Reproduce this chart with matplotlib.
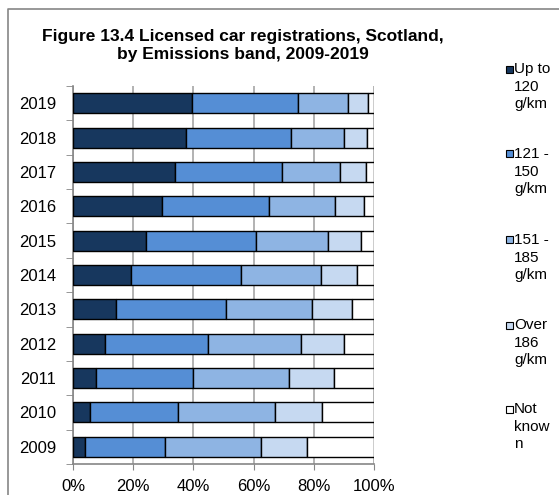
import matplotlib
matplotlib.use("Agg")
from matplotlib import pyplot as plt
from matplotlib.patches import Rectangle
from matplotlib.lines import Line2D
import numpy as np

plt.rcParams['font.family'] = ['Liberation Sans', 'DejaVu Sans']

years = ["2009", "2010", "2011", "2012", "2013", "2014", "2015", "2016", "2017", "2018", "2019"]
bands = ["Up to\n120\ng/km", "121 -\n150\ng/km", "151 -\n185\ng/km", "Over\n186\ng/km", "Not\nknow\nn"]
# shares (%) per band, 2009 -> 2019
up_to_120 = [3.9, 5.8, 7.8, 10.5, 14.4, 19.2, 24.4, 29.5, 34.0, 37.4, 39.7]
b121_150 = [26.5, 29.2, 32.0, 34.4, 36.3, 36.6, 36.4, 35.7, 35.3, 35.1, 35.1]
b151_185 = [31.9, 32.2, 31.8, 30.8, 28.6, 26.5, 24.0, 21.7, 19.4, 17.6, 16.4]
over_186 = [15.5, 15.6, 15.2, 14.3, 13.3, 12.2, 10.9, 9.7, 8.6, 7.7, 6.9]
not_known = [22.2, 17.2, 13.2, 10.0, 7.4, 5.5, 4.3, 3.4, 2.7, 2.2, 1.9]
colors = ["#17375E", "#558ED5", "#8EB4E3", "#C6D9F1", "#FFFFFF"]

W, H = 559, 495
fig = plt.figure(figsize=(W / 100, H / 100), dpi=100)
# (left, bottom, width, height) in figure fractions
ax = fig.add_axes((73 / W, (H - 464) / H, 301 / W, 378 / H))

series = [up_to_120, b121_150, b151_185, over_186, not_known]
y = np.arange(len(years))
left = np.zeros(len(years))
for vals, col in zip(series, colors):
    ax.barh(y, vals, left=left, height=0.58, color=col, edgecolor="black",
            linewidth=1.0, zorder=3)
    left += np.array(vals)

ax.set_xlim(0, 100)
ax.set_ylim(-0.5, len(years) - 0.5)
ax.set_xticks(np.arange(0, 101, 20))
ax.set_xticklabels(["%d%%" % v for v in range(0, 101, 20)], fontsize=12)
ax.set_yticks(y)
ax.set_yticklabels(years, fontsize=12)
ax.set_yticks(np.arange(-0.5, len(years)), minor=True)
ax.tick_params(axis='y', which='major', length=0, pad=12)
ax.tick_params(axis='y', which='minor', length=5, color="#868686", direction='out')
ax.tick_params(axis='x', length=4, color="#868686", direction='out', pad=7)
ax.grid(axis='x', color="#A6A6A6", linewidth=1.2, zorder=0)
for side in ("top", "right"):
    ax.spines[side].set_visible(False)
for side in ("left", "bottom"):
    ax.spines[side].set_color("#868686")
    ax.spines[side].set_linewidth(1.2)

fig.text(243 / W, 1 - 45 / H,
         "Figure 13.4 Licensed car registrations, Scotland,\nby Emissions band, 2009-2019",
         ha="center", va="center", fontsize=12.5, fontweight="bold", linespacing=1.25)

# legend, drawn by hand so the marker sits on the first line
entry_y = [69, 154, 240, 325, 409]
for lab, col, ey in zip(bands, colors, entry_y):
    fig.patches.append(Rectangle((505.5 / W, 1 - (ey + 3.5) / H), 7 / W, 7 / H,
                                 transform=fig.transFigure, facecolor=col,
                                 edgecolor="black", linewidth=0.8))
    fig.text(514 / W, 1 - (ey - 7) / H, lab, ha="left", va="top",
             fontsize=11, linespacing=1.32)

# chart area border
fig.lines.append(Line2D([8 / W, 8 / W, 1.0], [0.0, 1 - 9 / H, 1 - 9 / H],
                        transform=fig.transFigure, color="#868686", linewidth=1.2))

fig.savefig("out.png", dpi=100)
